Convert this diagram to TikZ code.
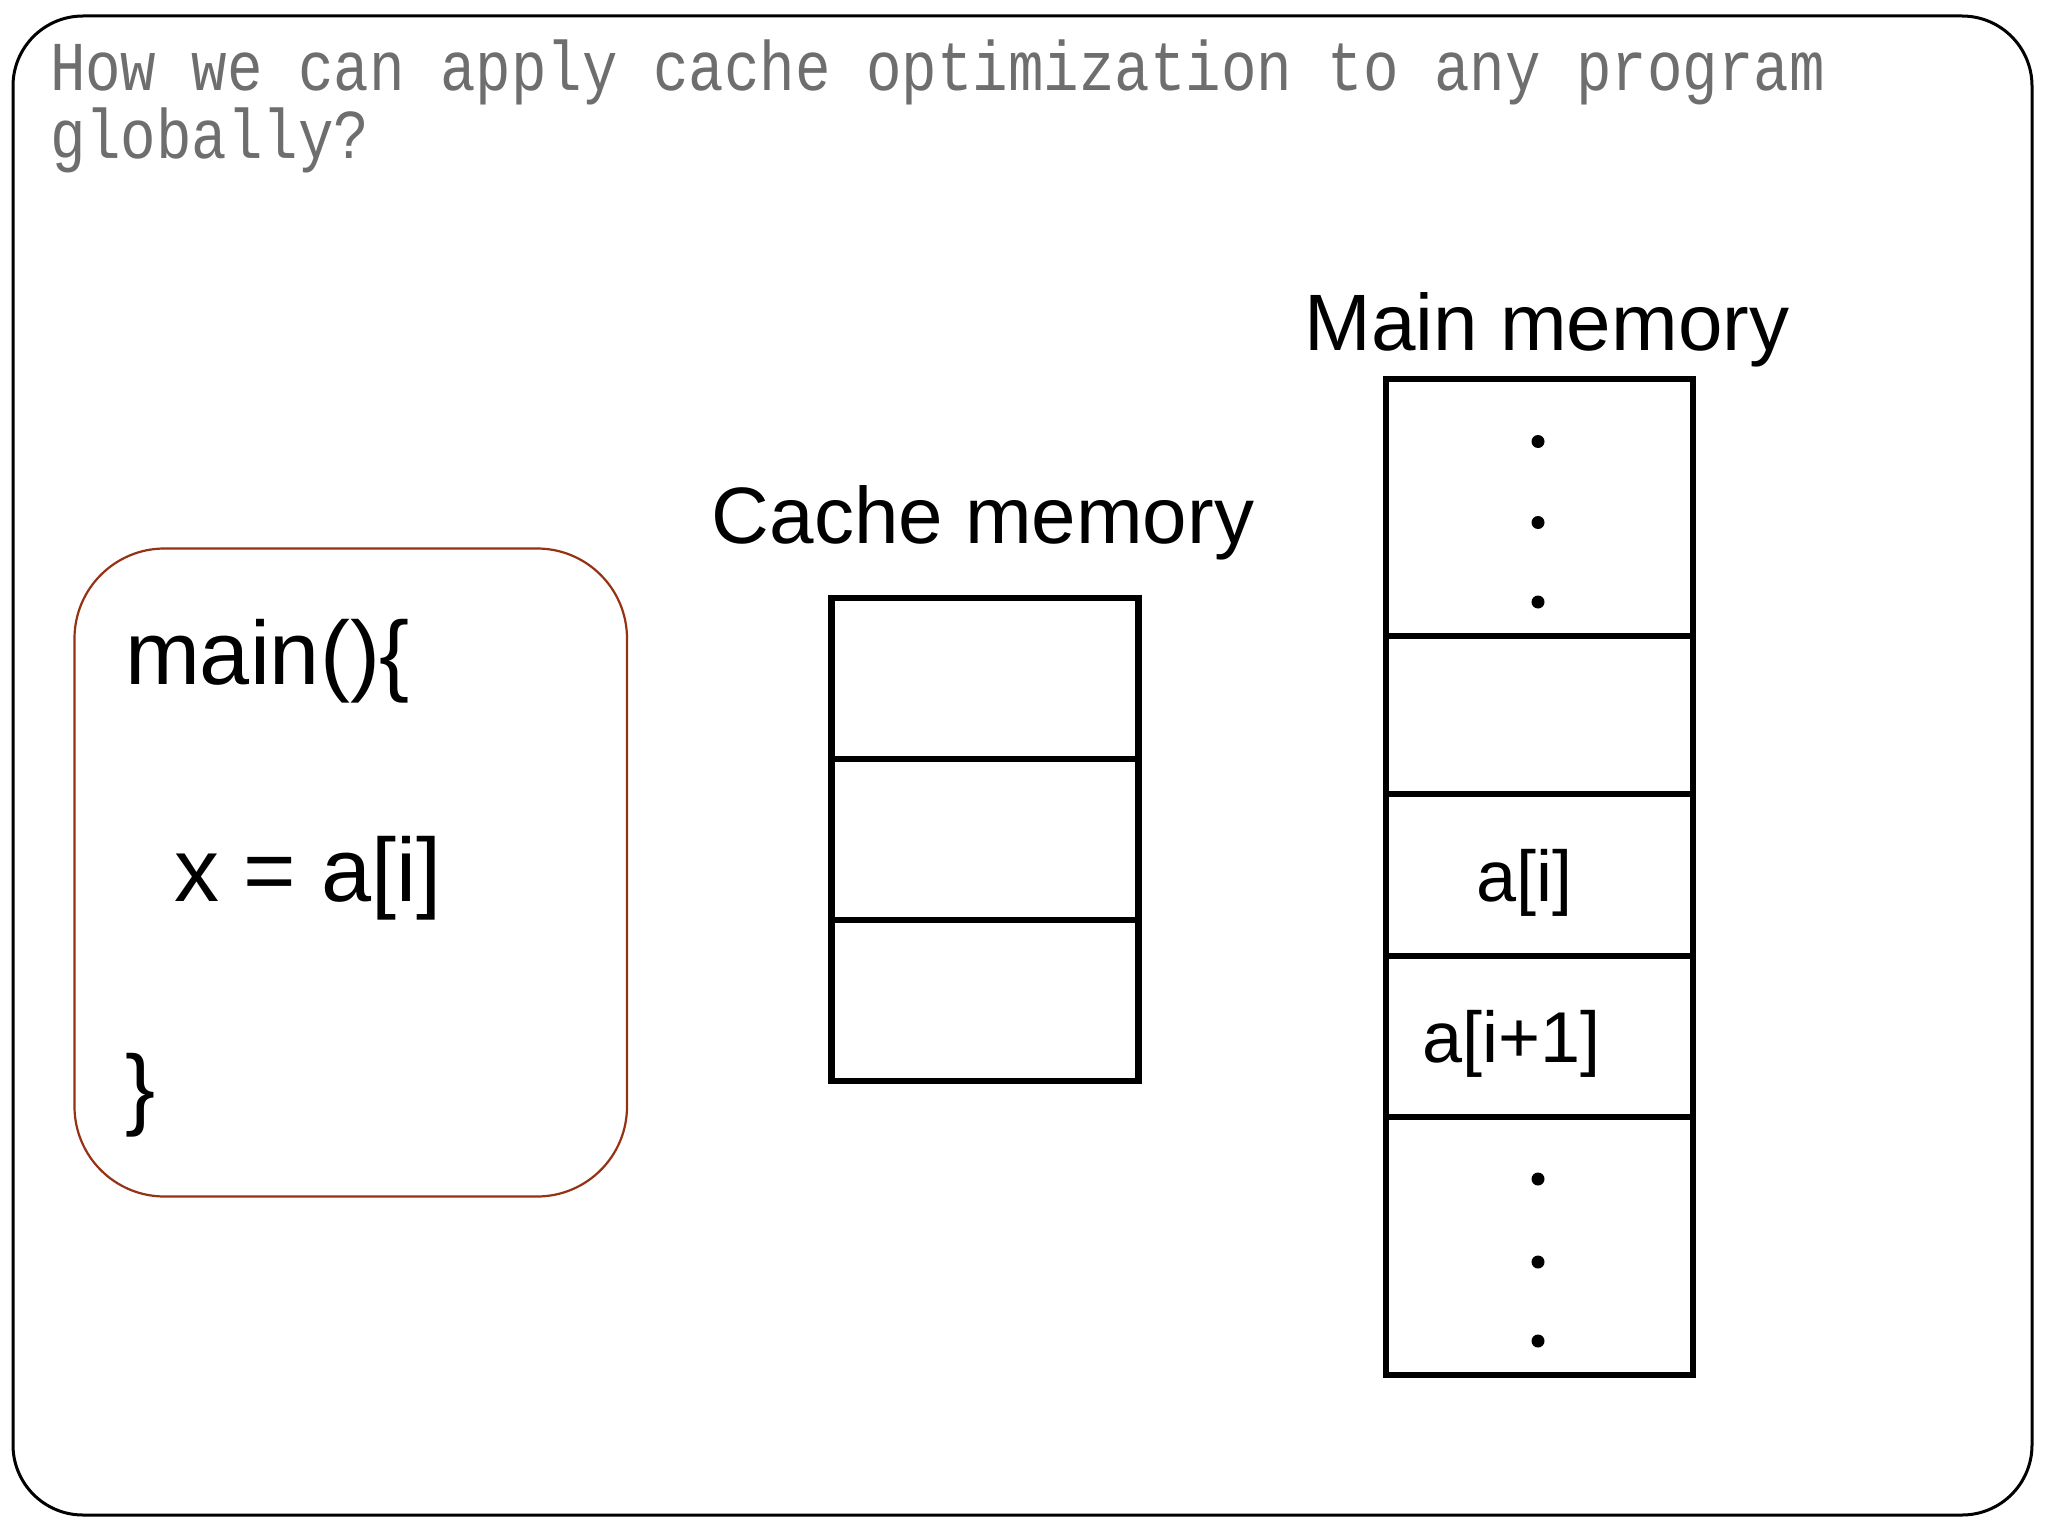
\documentclass[tikz,border=0pt]{standalone}
\usepackage{fontspec}
\setmainfont{Liberation Sans}
\newfontfamily\titlefont[FakeStretch=0.845]{Liberation Mono}
\definecolor{codebrown}{RGB}{150,50,20}
\definecolor{titlegray}{RGB}{110,110,110}
\begin{document}
\begin{tikzpicture}[x=1pt,y=-1pt,
  frame/.style={draw=black, line width=3pt, rounded corners=70pt, fill=white, inner sep=0pt},
  codebox/.style={draw=codebrown, line width=2.2pt, rounded corners=90pt, inner sep=0pt},
  cell/.style={draw=black, line width=6.5pt, minimum width=307pt, inner sep=0pt},
  txt/.style={anchor=base west, inner sep=0pt, outer sep=0pt},
  title/.style={txt, text=titlegray, font=\titlefont\fontsize{70}{84}\selectfont},
  label/.style={txt, font=\fontsize{80}{96}\selectfont},
  code/.style={txt, font=\fontsize{90}{108}\selectfont},
  celltext/.style={txt, font=\fontsize{72}{86}\selectfont},
  dot/.style={circle, fill=black, inner sep=0pt, minimum size=13pt}
]
\useasboundingbox (0,0) rectangle (2048,1536);
\node[frame, minimum width=2019pt, minimum height=1499pt] (frame) at (1022.5,765.5) {};

\node[title] (t1) at (50,91) {How we can apply cache optimization to any program};
\node[title] (t2) at (50,158) {globally?};

% code box
\node[codebox, minimum width=552.5pt, minimum height=648pt] (code) at (350.75,872.5) {};
\node[code] (c1) at (125,684) {main()\{};
\node[code] (c2) at (174,901) {x = a[i]};
\node[code] (c3) at (125,1118) {\}};

% cache memory
\node[label, anchor=base] (cachelbl) at (983,543) {Cache memory};
\node[cell, minimum height=161pt] (k1) at (985,678.5) {};
\node[cell, minimum height=161pt] (k2) at (985,839.5) {};
\node[cell, minimum height=161pt] (k3) at (985,1000.5) {};

% main memory
\node[label, anchor=base] (mainlbl) at (1547,350) {Main memory};
\node[cell, minimum height=257pt] (m1) at (1539.5,507.5) {};
\node[cell, minimum height=158pt] (m2) at (1539.5,715) {};
\node[cell, minimum height=162pt] (m3) at (1539.5,875) {};
\node[cell, minimum height=161pt] (m4) at (1539.5,1036.5) {};
\node[cell, minimum height=258pt] (m5) at (1539.5,1246) {};

\node[celltext] (ai) at (1476,901) {a[i]};
\node[celltext] (ai1) at (1422,1062) {a[i+1]};

\node[dot] (d1) at (1538,441.5) {};
\node[dot] (d2) at (1538,522.5) {};
\node[dot] (d3) at (1538,602) {};
\node[dot] (d4) at (1538,1179) {};
\node[dot] (d5) at (1538,1262) {};
\node[dot] (d6) at (1538,1341) {};
\end{tikzpicture}
\end{document}
